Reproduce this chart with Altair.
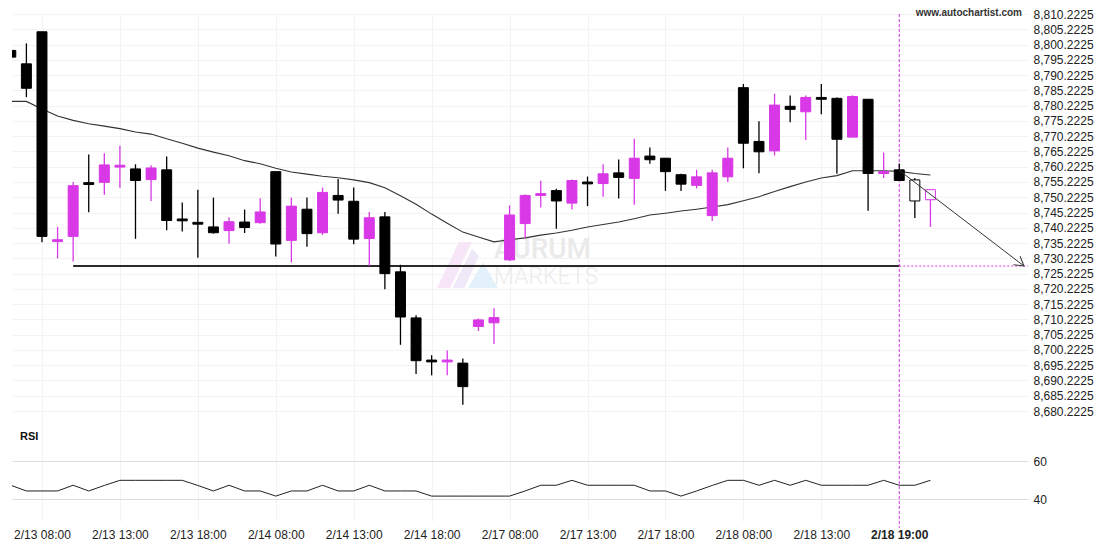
import math
import json
import altair as alt
import pandas as pd

# ---------------- data ----------------
idx = list(range(60))
opens = [8798.3, 8793.9, 8804.4, 8735.7, 8737.4, 8755.0, 8755.1, 8760.1, 8759.5, 8756.0,
         8759.2, 8743.1, 8742.0, 8740.5, 8739.3, 8742.1, 8741.9, 8758.6, 8736.1, 8746.3,
         8738.6, 8750.8, 8748.9, 8736.7, 8743.8, 8725.8, 8710.7, 8696.9, 8696.3, 8695.9,
         8707.9, 8709.1, 8729.7, 8741.6, 8750.8, 8752.4, 8748.3, 8755.2, 8754.7, 8758.2,
         8756.4, 8763.7, 8763.0, 8757.6, 8754.1, 8744.2, 8756.9, 8786.1, 8768.5, 8765.4,
         8780.0, 8778.2, 8782.9, 8782.6, 8769.9, 8782.3, 8758.0, 8759.2, 8755.9, 8749.4]
highs = [8798.3, 8800.6, 8804.4, 8740.5, 8755.2, 8764.2, 8764.6, 8767.1, 8761.0, 8760.7,
         8763.6, 8748.5, 8752.7, 8750.1, 8743.7, 8746.2, 8749.9, 8758.6, 8750.1, 8750.1,
         8753.4, 8756.2, 8753.4, 8745.4, 8745.4, 8728.1, 8711.6, 8698.5, 8700.0, 8697.4,
         8710.5, 8713.9, 8747.5, 8751.1, 8755.6, 8753.0, 8756.0, 8757.0, 8761.0, 8762.6,
         8769.4, 8766.5, 8763.0, 8757.9, 8759.2, 8759.2, 8766.5, 8787.3, 8775.1, 8784.1,
         8783.5, 8783.5, 8787.3, 8782.9, 8783.6, 8782.3, 8764.9, 8761.3, 8756.5, 8752.7]
lows = [8796.1, 8783.0, 8735.5, 8730.2, 8729.2, 8745.3, 8751.0, 8753.3, 8736.6, 8749.0,
        8739.4, 8739.0, 8730.4, 8738.3, 8735.0, 8738.5, 8741.5, 8730.8, 8728.9, 8734.0,
        8737.9, 8744.8, 8734.8, 8727.8, 8720.1, 8701.9, 8692.3, 8691.9, 8691.9, 8682.3,
        8706.4, 8702.2, 8729.4, 8736.7, 8746.9, 8739.9, 8746.2, 8747.3, 8750.4, 8749.8,
        8747.8, 8761.2, 8752.3, 8752.3, 8753.1, 8742.4, 8755.2, 8759.7, 8758.1, 8763.9,
        8774.8, 8769.0, 8777.4, 8757.9, 8769.9, 8745.8, 8756.5, 8755.7, 8743.4, 8740.5]
closes = [8796.1, 8785.9, 8737.4, 8736.3, 8754.0, 8754.4, 8760.8, 8760.7, 8755.7, 8759.8,
          8742.6, 8742.5, 8741.4, 8738.6, 8742.2, 8740.3, 8745.4, 8734.9, 8747.3, 8738.3,
          8751.8, 8749.3, 8736.5, 8743.5, 8725.2, 8711.0, 8696.7, 8696.3, 8696.9, 8688.2,
          8710.05, 8710.8, 8744.4, 8750.8, 8751.4, 8749.0, 8755.7, 8754.6, 8757.9, 8756.7,
          8763.0, 8762.5, 8758.6, 8754.5, 8756.9, 8758.2, 8763.0, 8767.9, 8765.1, 8780.4,
          8779.0, 8782.9, 8782.3, 8769.2, 8783.2, 8758.0, 8758.6, 8755.7, 8749.0, 8752.7]
ma = [8781.6, 8781.6, 8779.1, 8776.8, 8775.4, 8774.3, 8773.5, 8772.7, 8771.6, 8770.9,
      8769.4, 8767.9, 8766.3, 8765.0, 8763.8, 8762.2, 8761.2, 8759.7, 8758.5, 8757.8,
      8757.1, 8756.6, 8755.9, 8755.0, 8753.3, 8750.7, 8747.9, 8744.7, 8741.7, 8738.8,
      8737.2, 8735.6, 8736.3, 8736.9, 8737.8, 8738.5, 8739.4, 8740.5, 8741.3, 8742.1,
      8743.2, 8744.4, 8745.0, 8745.7, 8746.3, 8747.0, 8747.8, 8749.1, 8750.4, 8752.1,
      8753.7, 8755.2, 8756.5, 8757.3, 8758.9, 8758.9, 8758.9, 8758.7, 8758.0, 8757.5]
rsi = [47.4, 44.4, 44.4, 44.4, 47.4, 44.4, 47.3, 50, 50, 50,
       50, 50, 47.3, 44.4, 47.4, 44.4, 44.4, 41.7, 44.4, 44.4,
       47.4, 44.4, 44.4, 47.4, 44.4, 44.4, 44.4, 41.7, 41.7, 41.7,
       41.7, 41.7, 41.7, 44.4, 47.4, 47.4, 50, 47.4, 47.4, 47.4,
       47.4, 44.4, 44.4, 41.7, 44.4, 47.3, 50, 50, 47.4, 50,
       47.4, 50, 47.4, 47.4, 47.4, 47.4, 50, 47.4, 47.4, 50]
hollow_idx = [58, 59]

tick_idx = [2, 7, 12, 17, 22, 27, 32, 37, 42, 47, 52, 57]
tick_labels = ["2/13 08:00", "2/13 13:00", "2/13 18:00", "2/14 08:00", "2/14 13:00",
               "2/14 18:00", "2/17 08:00", "2/17 13:00", "2/17 18:00", "2/18 08:00",
               "2/18 13:00", "2/18 19:00"]
highlight_idx = 57
price_ticks = [round(8680.2225 + 5 * k, 4) for k in range(27)]
rsi_ticks = [40, 60]

support_level = 8727.7
support_start = 4
arrow_x = [57, 65.0]
arrow_y = [8759.0, 8727.7]
brand_text = "www.autochartist.com"
watermark = ["AURUM", "MARKETS"]

assert all(len(a) == 60 for a in [opens, highs, lows, closes, ma, rsi])

# ---------------- styles ----------------
BULL = "#d838e6"
BEAR = "#000000"
FONT = "Liberation Sans"
W, H1, H2 = 1016, 407, 100
x_dom = [0.077, 65.26]
y_dom = [8676.948, 8810.2225]
r_dom = [28.6, 81.2]

xs = alt.Scale(domain=x_dom, nice=False, zero=False)
ys = alt.Scale(domain=y_dom, nice=False, zero=False)
rs = alt.Scale(domain=r_dom, nice=False, zero=False)

ax_x_main = alt.Axis(values=tick_idx, labels=False, ticks=False, domain=False, grid=True,
                     gridColor="#f2f2f2", title=None)
ax_y_main = alt.Axis(orient="right", values=price_ticks, format=",.4f", grid=True,
                     gridColor="#f3f3f3", domain=False, ticks=False, labelPadding=5,
                     labelFontSize=12, labelColor="#222", labelFont=FONT, title=None,
                     labelOverlap=False, labelFlush=False)
label_expr = f"{json.dumps(tick_labels)}[indexof({json.dumps(tick_idx)}, datum.value)]"
ax_x_rsi = alt.Axis(values=tick_idx, labelExpr=label_expr, ticks=False, domain=False, grid=True,
                    gridColor="#f2f2f2", title=None, labelPadding=8, labelFontSize=12,
                    labelColor="#222", labelFont=FONT, labelOverlap=False, labelFlush=False,
                    labelFontWeight={"condition": {"test": f"datum.value == {highlight_idx}",
                                                   "value": "bold"}, "value": "normal"})
ax_y_rsi = alt.Axis(orient="right", values=rsi_ticks, format="d", grid=True, gridColor="#dddddd",
                    domain=False, ticks=False, labelPadding=5, labelFontSize=12, labelColor="#222",
                    labelFont=FONT, title=None, labelFlush=False)


def X(f):
    return alt.X(f, scale=xs, axis=ax_x_main)


def Y(f):
    return alt.Y(f, scale=ys, axis=ax_y_main)


# ---------------- tables ----------------
rows = []
for i, o, h, l, c in zip(idx, opens, highs, lows, closes):
    col = BULL if c >= o else BEAR
    rows.append(dict(i=i, x0=i - 0.32, x1=i + 0.32, lo=min(o, c), hi=max(o, c), low=l, high=h,
                     col=col, fill="#ffffff" if i in hollow_idx else col))
candles = pd.DataFrame(rows)
ma_df = pd.DataFrame({"i": idx, "ma": ma})
rsi_df = pd.DataFrame({"i": idx, "rsi": rsi})
support_df = pd.DataFrame({"x0": [support_start], "x1": [highlight_idx], "y": [support_level]})
dotted_df = pd.DataFrame({"x0": [highlight_idx], "x1": [x_dom[1]], "y": [support_level]})
hl_df = pd.DataFrame({"x": [highlight_idx]})
arrow_df = pd.DataFrame({"x0": [arrow_x[0]], "x1": [arrow_x[1]], "y0": [arrow_y[0]], "y1": [arrow_y[1]]})
head_df = pd.DataFrame({"x": [arrow_x[1]], "y": [arrow_y[1]]})
brand_df = pd.DataFrame({"t": [brand_text]})

dx_px = (arrow_x[1] - arrow_x[0]) * W / (x_dom[1] - x_dom[0])
dy_px = (arrow_y[0] - arrow_y[1]) * H1 / (y_dom[1] - y_dom[0])
head_angle = math.degrees(math.atan2(dy_px, dx_px))

# ---------------- main panel ----------------
wm_pink = alt.Chart(brand_df).mark_point(
    shape="M-1.15,0.92L-0.65,0.92L0.19,-0.85L-0.31,-0.85Z", filled=True, color="#f6e6f7",
    opacity=1, size=2704).encode(x=alt.value(455), y=alt.value(250))
wm_lav = alt.Chart(brand_df).mark_point(
    shape="M-0.55,0.92L-0.1,0.92L0.45,-0.3L0.2,-0.6Z", filled=True, color="#eee8f9",
    opacity=1, size=2704).encode(x=alt.value(455), y=alt.value(250))
wm_blue = alt.Chart(brand_df).mark_point(
    shape="M0.04,0.92L0.62,-0.08L1.19,0.92Z", filled=True, color="#e2f1fa",
    opacity=1, size=2704).encode(x=alt.value(455), y=alt.value(250))
wm_t1 = alt.Chart(brand_df).mark_text(align="left", baseline="middle", fontSize=28, font="Roboto",
                                      fontWeight=500, color="#eaeaea").encode(
    x=alt.value(482), y=alt.value(236), text=alt.value(watermark[0]))
wm_t2 = alt.Chart(brand_df).mark_text(align="left", baseline="middle", fontSize=23, font="Roboto",
                                      fontWeight=300, color="#ececec").encode(
    x=alt.value(482), y=alt.value(263), text=alt.value(watermark[1]))

support = alt.Chart(support_df).mark_rule(color="#2a2a2a", strokeWidth=2.2).encode(
    x=X("x0:Q"), x2="x1:Q", y=Y("y:Q"))
dotted = alt.Chart(dotted_df).mark_rule(color=BULL, strokeWidth=1, strokeDash=[2, 2]).encode(
    x=X("x0:Q"), x2="x1:Q", y=Y("y:Q"))
hl_main = alt.Chart(hl_df).mark_rule(color=BULL, strokeWidth=1, strokeDash=[3, 2]).encode(
    x=X("x:Q"))
ma_line = alt.Chart(ma_df).mark_line(color="#333333", strokeWidth=1.1, clip=True).encode(
    x=X("i:Q"), y=Y("ma:Q"))
wicks = alt.Chart(candles).mark_rule(strokeWidth=1.3, clip=True).encode(
    x=X("i:Q"), y=Y("low:Q"), y2="high:Q", color=alt.Color("col:N", scale=None))
bodies = alt.Chart(candles).mark_rect(strokeWidth=1, clip=True).encode(
    x=X("x0:Q"), x2="x1:Q", y=Y("lo:Q"), y2="hi:Q",
    fill=alt.Fill("fill:N", scale=None), stroke=alt.Stroke("col:N", scale=None))
arrow = alt.Chart(arrow_df).mark_rule(color="#333333", strokeWidth=1).encode(
    x=X("x0:Q"), x2="x1:Q", y=Y("y0:Q"), y2="y1:Q")
head = alt.Chart(head_df).mark_point(shape="M-1,-0.6L0,0L-1,0.6", filled=False, color="#333333",
                                     strokeWidth=1, size=324, angle=round(head_angle, 2),
                                     opacity=1).encode(x=X("x:Q"), y=Y("y:Q"))
brand = alt.Chart(brand_df).mark_text(align="right", baseline="middle", fontSize=10,
                                      fontWeight="bold", font=FONT, color="#333333").encode(
    x=alt.value(1010), y=alt.value(-1), text="t:N")

main = alt.layer(wm_pink, wm_lav, wm_blue, wm_t1, wm_t2, support, dotted, hl_main, ma_line,
                 wicks, bodies, arrow, head, brand).properties(width=W, height=H1)

# ---------------- RSI panel ----------------
rsi_line = alt.Chart(rsi_df).mark_line(color="#222222", strokeWidth=1, clip=True).encode(
    x=alt.X("i:Q", scale=xs, axis=ax_x_rsi), y=alt.Y("rsi:Q", scale=rs, axis=ax_y_rsi))
hl_rsi = alt.Chart(hl_df).mark_rule(color=BULL, strokeWidth=1, strokeDash=[3, 2]).encode(
    x=alt.X("x:Q", scale=xs, axis=ax_x_rsi), y=alt.value(0), y2=alt.value(107))
rsi_label = alt.Chart(brand_df).mark_text(align="left", baseline="middle", fontSize=11,
                                          fontWeight="bold", font=FONT, color="#111111").encode(
    x=alt.value(8), y=alt.value(16), text=alt.value("RSI"))
rsi_panel = alt.layer(rsi_line, hl_rsi, rsi_label).properties(width=W, height=H2)

chart = alt.vconcat(main, rsi_panel, spacing=0, bounds="flush").properties(
    padding={"left": 4, "top": 0, "right": 0, "bottom": 0}, background="white"
).configure_view(stroke=None)

chart.save("out.html", embed_options={"renderer": "svg", "actions": False})
